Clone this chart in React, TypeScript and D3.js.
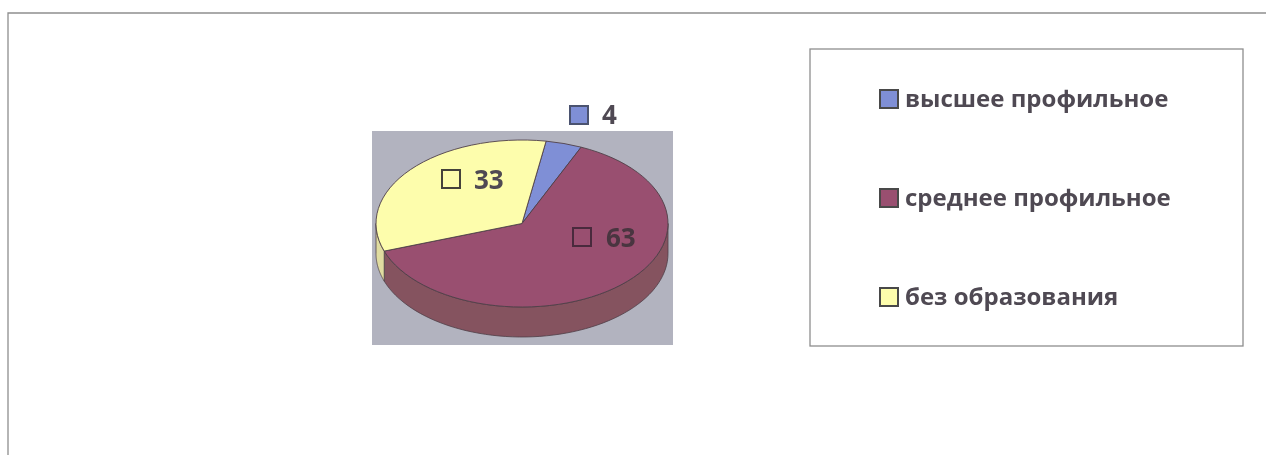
import React from 'react';
import * as d3 from 'd3';

const categories = ['высшее профильное', 'среднее профильное', 'без образования'];
const values = [4, 63, 33];
const colors = ['#7f8fd6', '#99506f', '#fdfdac'];
const sideColors = ['#5f6ba0', '#85525f', '#e0dca0'];
const plotBg = '#b2b3bf';
const textColor = '#4f4a52';
const lineColor = '#4f4048';

const W = 1266;
const H = 455;
const cx = 522;
const cy = 223.5;
const rx = 146;
const ry = 83.5;
const depth = 30;
const startDeg = 9.5;

const rad = (d: number) => (d * Math.PI) / 180;

const pie = d3
  .pie<number>()
  .sort(null)
  .startAngle(rad(startDeg))
  .endAngle(rad(startDeg + 360));
const arcs = pie(values);

const arc = d3.arc<d3.PieArcDatum<number>>().innerRadius(0).outerRadius(rx);

// point on the top ellipse for a pie angle
const px = (a: number) => cx + rx * Math.sin(a);
const py = (a: number) => cy - ry * Math.cos(a);

const line = d3.line<[number, number]>();

// the wall only shows on the front half of the disc
function sidePath(a0: number, a1: number) {
  const segs: string[] = [];
  for (const off of [0, 2 * Math.PI]) {
    const s = Math.max(a0, rad(90) + off);
    const e = Math.min(a1, rad(270) + off);
    if (e <= s) continue;
    const angles = d3.range(0, 61).map((i) => s + ((e - s) * i) / 60);
    const top = angles.map((a) => [px(a), py(a)] as [number, number]);
    const bottom = [...angles].reverse().map((a) => [px(a), py(a) + depth] as [number, number]);
    segs.push(line([...top, ...bottom])! + 'Z');
  }
  return segs.join('');
}

const labelPos = [
  { box: [570, 106], text: [602, 124] },
  { box: [573, 228], text: [606, 247] },
  { box: [442, 170], text: [474, 189] },
];

const legendY = d3.scalePoint<string>().domain(categories).range([90, 288]);

export default function App() {
  return (
    <svg
      width={W}
      height={H}
      style={{ position: 'absolute', left: 0, top: 0, background: '#fff' }}
      fontFamily="'Open Sans', sans-serif"
    >
      <defs>
        <filter id="scan" x="-5%" y="-5%" width="110%" height="110%">
          <feGaussianBlur stdDeviation="0.6" />
        </filter>
      </defs>
      <g filter="url(#scan)">
        <path d={`M8 ${H}V13H${W}`} fill="none" stroke="#8e8e8e" strokeWidth={1.3} />

        <rect x={372} y={131} width={301} height={214} fill={plotBg} />

        {arcs.map((d, i) => (
          <path key={i} d={sidePath(d.startAngle, d.endAngle)} fill={sideColors[i]} stroke={lineColor} strokeWidth={0.8} />
        ))}
        {arcs.map((d, i) => (
          <path
            key={i}
            d={arc(d)!}
            transform={`translate(${cx},${cy}) scale(1,${ry / rx})`}
            fill={colors[i]}
            stroke={lineColor}
            strokeWidth={0.9}
            vectorEffect="non-scaling-stroke"
          />
        ))}

        {values.map((v, i) => (
          <g key={i}>
            <rect
              x={labelPos[i].box[0]}
              y={labelPos[i].box[1]}
              width={18}
              height={18}
              fill={colors[i]}
              stroke={i === 0 ? '#4b5270' : i === 1 ? '#4a2c3c' : '#45433a'}
              strokeWidth={2}
            />
            <text
              x={labelPos[i].text[0]}
              y={labelPos[i].text[1]}
              fontSize={26}
              fontWeight={700}
              fill={i === 1 ? '#4a3440' : textColor}
            >
              {v}
            </text>
          </g>
        ))}

        <rect x={810} y={49} width={433} height={297} fill="#fff" stroke="#8e8e8e" strokeWidth={1.3} />
        {categories.map((c, i) => (
          <g key={c} transform={`translate(880,${legendY(c)!})`}>
            <rect x={0} y={0} width={18} height={18} fill={colors[i]} stroke="#4a4a4a" strokeWidth={2} />
            <text x={25} y={17} fontSize={24} fontWeight={700} fill={textColor}>
              {c}
            </text>
          </g>
        ))}
      </g>
    </svg>
  );
}
